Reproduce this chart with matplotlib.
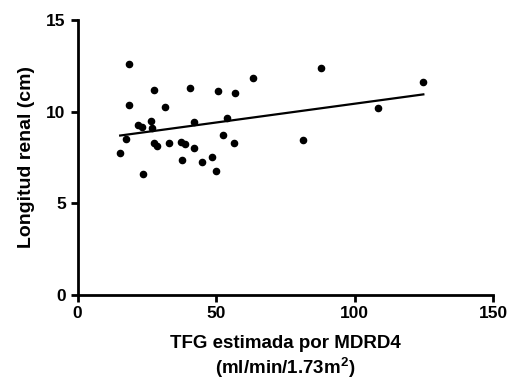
import matplotlib
matplotlib.use("Agg")
from matplotlib import pyplot as plt
import numpy as np

# TFG (ml/min/1.73m2) vs longitud renal (cm)
tfg = [18.6, 63.2, 27.7, 40.6, 50.6, 56.9, 18.7, 31.6, 21.9, 23.1, 26.6,
       26.8, 42.1, 53.9, 17.4, 52.4, 15.4, 27.7, 28.6, 33.1, 37.3, 38.8,
       42.1, 56.5, 23.6, 37.6, 44.9, 48.5, 49.9, 87.9, 124.8, 108.4, 81.3]
longitud = [12.62, 11.84, 11.17, 11.28, 11.10, 10.99, 10.37, 10.23, 9.25,
            9.14, 9.48, 9.09, 9.43, 9.66, 8.49, 8.74, 7.74, 8.30, 8.09, 8.29,
            8.36, 8.23, 8.00, 8.29, 6.59, 7.33, 7.24, 7.54, 6.75, 12.38,
            11.62, 10.17, 8.43]
x_ticks = [0, 50, 100, 150]
y_ticks = [0, 5, 10, 15]

plt.rcParams["font.family"] = ["Liberation Sans", "DejaVu Sans"]
plt.rcParams["font.weight"] = "bold"
plt.rcParams["mathtext.fontset"] = "custom"
plt.rcParams["mathtext.rm"] = "Liberation Sans:bold"
plt.rcParams["mathtext.bf"] = "Liberation Sans:bold"
plt.rcParams["mathtext.default"] = "bf"

fig = plt.figure(figsize=(5.1, 3.85), dpi=100)
ax = fig.add_axes([0.152, 0.235, 0.815, 0.713])

ax.scatter(tfg, longitud, s=20, color="black", zorder=3)

# linear regression
slope, intercept = np.polyfit(tfg, longitud, 1)
xs = np.array([min(tfg), max(tfg)])
ax.plot(xs, slope * xs + intercept, color="black", lw=1.6)

ax.set_xlim(0, 150)
ax.set_ylim(0, 15)
ax.set_xticks(x_ticks)
ax.set_yticks(y_ticks)
for s in ["top", "right"]:
    ax.spines[s].set_visible(False)
for s in ["left", "bottom"]:
    ax.spines[s].set_linewidth(2)
ax.tick_params(width=2, length=5, labelsize=12.5)

ax.set_xlabel("TFG estimada por MDRD4\n(ml/min/1.73m$^2$)", fontsize=13.5,
              fontweight="bold", labelpad=10, linespacing=1.2)
ax.set_ylabel("Longitud renal (cm)", fontsize=14, fontweight="bold", labelpad=8)

plt.savefig("out.png", dpi=100)
